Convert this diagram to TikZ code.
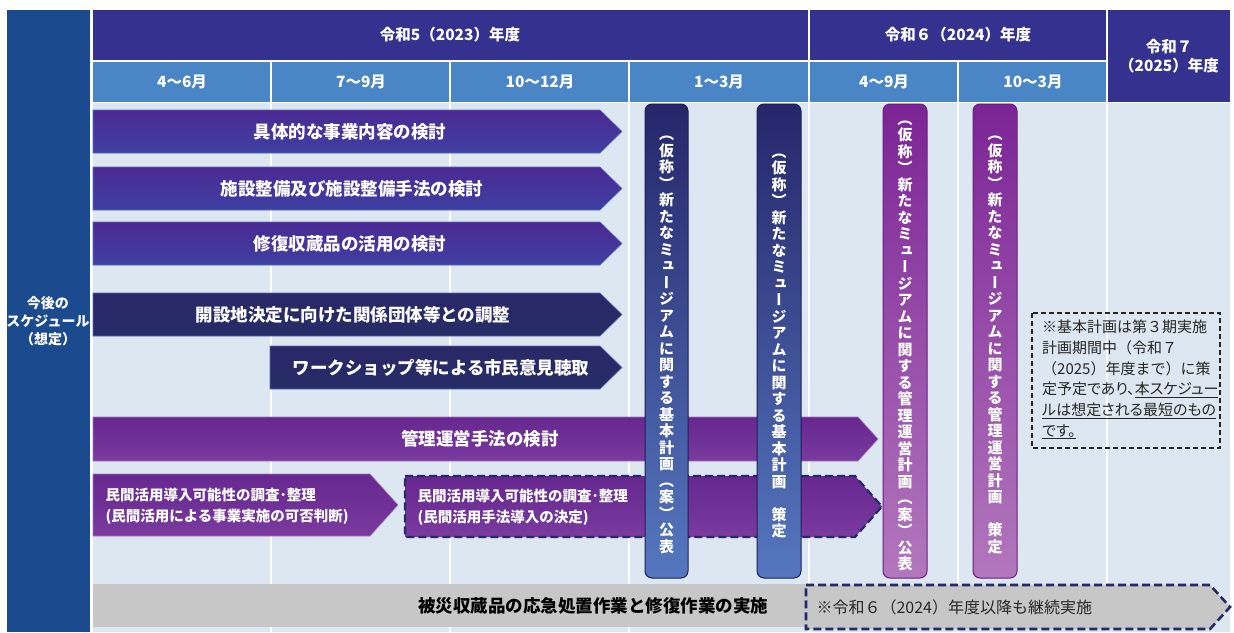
\documentclass[tikz,border=0pt]{standalone}
\usepackage{fontspec}
\setmainfont{Noto Sans CJK JP}
\newfontfamily\jpv{Noto Sans CJK JP}[RawFeature=+vert]
\newfontfamily\jpp{Noto Sans CJK JP}[RawFeature=+palt]
\ExplSyntaxOn
\NewDocumentCommand\vstack{m}{
  \seq_clear:N \l_tmpa_seq
  \tl_map_inline:nn {#1} { \seq_put_right:Nn \l_tmpa_seq {##1} }
  \seq_use:Nn \l_tmpa_seq {\\}
}
\ExplSyntaxOff
\definecolor{hdrnavy}{HTML}{35318E}
\definecolor{hdrblue}{HTML}{4A86C6}
\definecolor{leftblue}{HTML}{1B4A8E}
\definecolor{bodybg}{HTML}{DCE7F1}
\definecolor{barpA}{HTML}{4B2A93}
\definecolor{barpB}{HTML}{3E3FA2}
\definecolor{navyA}{HTML}{2A2868}
\definecolor{navyB}{HTML}{262C66}
\definecolor{purpA}{HTML}{66288F}
\definecolor{purpB}{HTML}{7A3A9E}
\definecolor{vbA}{HTML}{26266A}
\definecolor{vbB}{HTML}{5577BF}
\definecolor{vpA}{HTML}{7B2495}
\definecolor{vpB}{HTML}{B277BD}
\definecolor{graybar}{HTML}{C7C7C7}
\definecolor{dashnavy}{HTML}{27286A}
\definecolor{edgeblue}{HTML}{5A6AB8}
\tikzset{
  hdrtext/.style={text=white, font=\bfseries\fontsize{15.5}{19}\selectfont, align=center},
  bartext/.style={text=white, font=\bfseries\fontsize{17.5}{20}\selectfont},
  smalltext/.style={text=white, font=\bfseries\fontsize{14.5}{21}\selectfont, align=left, anchor=west},
  bluebar/.style={top color=barpA, bottom color=barpB, draw=edgeblue, line width=0.6},
  navybar/.style={top color=navyA, bottom color=navyB, draw=edgeblue, line width=0.6},
  purpbar/.style={top color=purpA, bottom color=purpB, draw=purpB!70!white, line width=0.6},
  vblue/.style={top color=vbA, bottom color=vbB, draw=vbA!80!black, line width=1, rounded corners=7},
  vpurp/.style={top color=vpA, bottom color=vpB, draw=vpA!85!black, line width=1, rounded corners=7},
  vtext/.style={text=white, font=\jpv\bfseries\fontsize{15}{16.5}\selectfont, align=center, inner sep=0pt},
  gridline/.style={white, line width=1.5},
  dashedge/.style={draw=dashnavy, line width=2.2, dash pattern=on 8pt off 4pt},
}
\begin{document}
\begin{tikzpicture}[x=1pt,y=-1pt]
\useasboundingbox (0,0) rectangle (1234,632);
% backgrounds
\fill[leftblue] (7,10) rectangle (90,632);
\fill[bodybg] (93,103) rectangle (1230,632);
\fill[hdrnavy] (93,10) rectangle (808,60);
\fill[hdrnavy] (810,10) rectangle (1106,60);
\fill[hdrnavy] (1108,10) rectangle (1230,102);
\fill[hdrblue] (93,62) rectangle (270,102);
\fill[hdrblue] (272,62) rectangle (449,102);
\fill[hdrblue] (451,62) rectangle (628,102);
\fill[hdrblue] (630,62) rectangle (808,102);
\fill[hdrblue] (810,62) rectangle (957,102);
\fill[hdrblue] (959,62) rectangle (1106,102);
\foreach \gx in {271,450,629,809,958,1107} \draw[gridline] (\gx,103) -- (\gx,632);
% header texts
\node[hdrtext] (h1) at (450,35) {令和5（2023）年度};
\node[hdrtext] (h2) at (958,35) {令和６（2024）年度};
\node[hdrtext] (h3) at (1169,56) {令和７\\（2025）年度};
\node[hdrtext] (m1) at (182,82) {4～6月};
\node[hdrtext] (m2) at (361,82) {7～9月};
\node[hdrtext] (m3) at (540,82) {10～12月};
\node[hdrtext] (m4) at (719,82) {1～3月};
\node[hdrtext] (m5) at (884,82) {4～9月};
\node[hdrtext] (m6) at (1033,82) {10～3月};
\node[hdrtext, font=\bfseries\fontsize{14}{18}\selectfont] (lab) at (48,321) {今後の\\スケジュール\\（想定）};
% horizontal bars
\path[bluebar] (93,110) -- (600,110) -- (622,131.5) -- (600,153) -- (93,153) -- cycle;
\node[bartext] (t1) at (350,131.5) {具体的な事業内容の検討};
\path[bluebar] (93,167) -- (600,167) -- (622,188.5) -- (600,210) -- (93,210) -- cycle;
\node[bartext] (t2) at (352,188.5) {施設整備及び施設整備手法の検討};
\path[bluebar] (93,222) -- (600,222) -- (622,243.5) -- (600,265) -- (93,265) -- cycle;
\node[bartext] (t3) at (350,243.5) {修復収蔵品の活用の検討};
\path[navybar] (93,293) -- (600,293) -- (622,314.5) -- (600,336) -- (93,336) -- cycle;
\node[bartext] (t4) at (353,314.5) {開設地決定に向けた関係団体等との調整};
\path[navybar] (270,346) -- (600,346) -- (622,367.5) -- (600,389) -- (270,389) -- cycle;
\node[bartext] (t5) at (441,367.5) {ワークショップ等による市民意見聴取};
\path[purpbar] (93,417) -- (858,417) -- (878,439) -- (858,461) -- (93,461) -- cycle;
\node[bartext] (t6) at (480,439) {管理運営手法の検討};
\path[purpbar] (93,474) -- (370,474) -- (398,505) -- (370,536) -- (93,536) -- cycle;
\node[smalltext] (t7) at (102,506) {民間活用導入可能性の調査･整理\\(民間活用による事業実施の可否判断)};
\path[purpbar, draw=none] (405,476) -- (855,476) -- (882,506.5) -- (855,537) -- (405,537) -- cycle;
\draw[dashedge] (405,476) -- (855,476) -- (882,506.5) -- (855,537) -- (405,537) -- cycle;
\node[smalltext] (t8) at (414,507) {民間活用導入可能性の調査･整理\\(民間活用手法導入の決定)};
% vertical bars
\path[vblue] (645,104) rectangle (688,578);
\node[vtext] (v1) at (666.5,345) {\vstack{（仮称）新たなミュージアムに関する基本計画（案）公表}};
\path[vblue] (757,104) rectangle (801,578);
\node[vtext] (v2) at (779,346) {\vstack{（仮称）新たなミュージアムに関する基本計画　策定}};
\path[vpurp] (883,104) rectangle (927,578);
\node[vtext] (v3) at (905,346) {\vstack{（仮称）新たなミュージアムに関する管理運営計画（案）公表}};
\path[vpurp] (973,104) rectangle (1017,578);
\node[vtext] (v4) at (995,345) {\vstack{（仮称）新たなミュージアムに関する管理運営計画　策定}};
% note
\draw[black!85, line width=1.2, dash pattern=on 5pt off 3pt] (1032,313) rectangle (1220,448);
\node[anchor=north west, align=left, inner sep=0pt, font=\fontsize{15}{20.7}\selectfont, text=black!85] (note) at (1042,320)
 {※基本計画は第３期実施\\計画期間中（令和７\\（2025）年度まで）に策\\{\jpp 定予定であり、\underline{本スケジュー}}\\{\jpp\underline{ルは想定される最短のもの}}\\{\jpp\underline{です。}}};
% bottom bar
\fill[graybar] (93,584) rectangle (808,627);
\path[fill=graybar] (806,585) -- (1210,585) -- (1230,607) -- (1210,629) -- (806,629) -- cycle;
\draw[dashedge, line width=2.6] (806,585) -- (1210,585) -- (1230,607) -- (1210,629) -- (806,629) -- cycle;
\node[font=\bfseries\fontsize{17.5}{20}\selectfont, text=black] (b1) at (593,606) {被災収蔵品の応急処置作業と修復作業の実施};
\node[anchor=west, font=\fontsize{16}{19}\selectfont, text=black!85] (b2) at (813,607) {※令和６（2024）年度以降も継続実施};
\end{tikzpicture}
\end{document}
